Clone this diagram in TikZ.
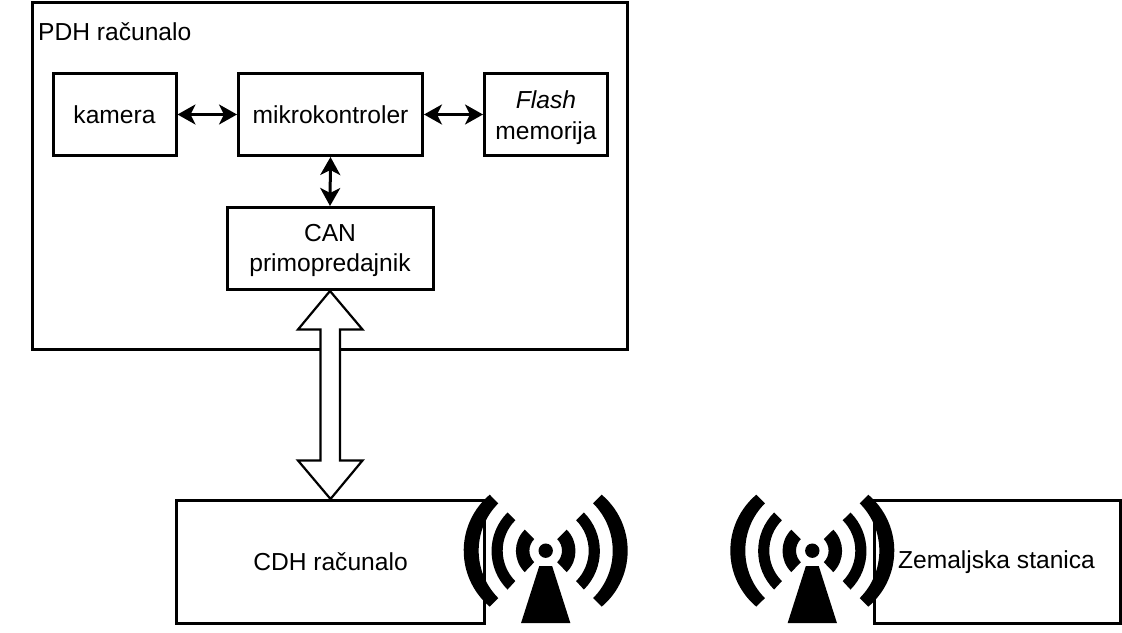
\documentclass[tikz,border=0pt]{standalone}
\usepackage{fontspec}
\setmainfont{Liberation Sans}
\usetikzlibrary{arrows.meta}
\tikzset{
  box/.style={draw=black,line width=3pt,fill=white,inner sep=0pt,align=center,font=\fontsize{24.6}{30.7}\selectfont},
  link/.style={line width=3pt,{Stealth[length=18pt,width=20pt,inset=5pt]}-{Stealth[length=18pt,width=20pt,inset=5pt]}},
  block/.style={draw=black,line width=2.2pt,fill=white,line join=miter},
  label/.style={inner sep=0pt,font=\fontsize{24.6}{30.7}\selectfont},
  pics/antenna/.style={code={
    \fill (0,0) circle (7.2);
    \fill (-6.5,-15.5) -- (6.5,-15.5) -- (24.7,-72.5) -- (-24.7,-72.5) -- cycle;
    \foreach \s in {1,-1}{
      \begin{scope}[xscale=\s]
        \fill (56,56) arc[start angle=49.8,end angle=-49.8,radius=73.3] -- (47.4,-47.4) arc[start angle=-45,end angle=45,radius=67] -- cycle;
        \fill (38.2,38.2) arc[start angle=45,end angle=-45,radius=54.5] -- (30.4,-30.4) arc[start angle=-45,end angle=45,radius=43] -- cycle;
        \fill (21,21) arc[start angle=45,end angle=-45,radius=30] -- (11.5,-11.5) arc[start angle=-45,end angle=45,radius=16.3] -- cycle;
      \end{scope}
    }
  }}
}
\begin{document}
\begin{tikzpicture}[x=1pt,y=1pt]
\useasboundingbox (0,0) rectangle (1122,632);
\fill[white] (0,0) rectangle (1122,632);
% y = 632 - pixel y
\node[box,minimum width=595pt,minimum height=347pt] (pdh) at (330,455.5) {};
\node[label,anchor=west] (pdhl) at (38,600.5) {PDH računalo};
\node[box,minimum width=123pt,minimum height=82pt] (kam) at (114.5,517.5) {kamera};
\node[box,minimum width=184pt,minimum height=82pt] (mk) at (330.5,517.5) {mikrokontroler};
\node[box,minimum width=123pt,minimum height=82pt] (fl) at (546,517.5) {\rule{0pt}{24pt}\textit{Flash}\\memorija};
\node[box,minimum width=206pt,minimum height=82pt] (can) at (330,383.5) {\rule{0pt}{21pt}CAN\\primopredajnik};
\node[box,minimum width=308pt,minimum height=123pt] (cdh) at (330.5,70) {CDH računalo};
\node[box,minimum width=246pt,minimum height=123pt] (zs) at (997.5,70) {Zemaljska stanica\kern2pt};
\draw[link] (kam.east) -- (mk.west);
\draw[link] (mk.east) -- (fl.west);
\draw[link] (mk.south) -- (can.north);
\draw[block] (can.south) -- ++(32.5,-38.5) -- ++(-22.5,0) -- ++(0,-131) -- ++(22.5,0)
  -- (cdh.north) -- ++(-32.5,38.5) -- ++(22.5,0) -- ++(0,131) -- ++(-22.5,0) -- cycle;
\pic at (545.7,81.3) {antenna};
\pic at (812.3,81.3) {antenna};
\end{tikzpicture}
\end{document}
